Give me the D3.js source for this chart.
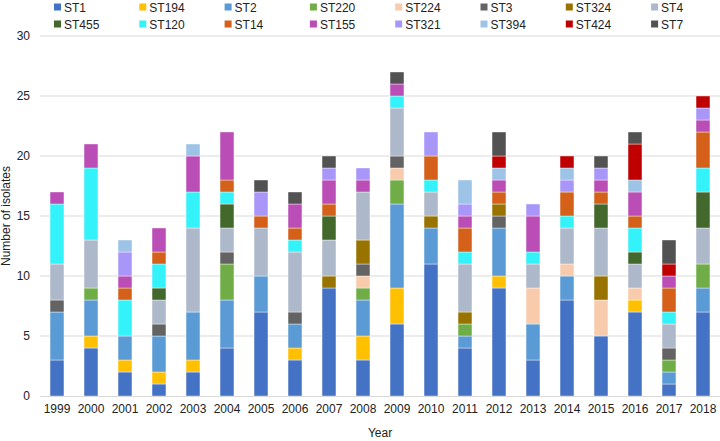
<!DOCTYPE html>
<html><head><meta charset="utf-8">
<script src="https://cdn.jsdelivr.net/npm/d3@7"></script>
<style>body{margin:0;background:#fff;}svg{display:block;font-family:"Liberation Sans",Arial,sans-serif;}</style>
</head><body>
<svg id="c" width="720" height="441"></svg>
<script>
const years = ["1999","2000","2001","2002","2003","2004","2005","2006","2007","2008","2009","2010","2011","2012","2013","2014","2015","2016","2017","2018"];
const seriesNames = ["ST1","ST194","ST2","ST220","ST224","ST3","ST324","ST4","ST455","ST120","ST14","ST155","ST321","ST394","ST424","ST7"];
const colors = ["#4472C4","#FFC000","#5B9BD5","#70AD47","#F8CBAD","#636363","#997300","#ADB9CA","#43682B","#33F2F9","#D5601A","#BA4DB6","#A897F9","#9DC3E6","#C00000","#525252"];
const ST1   = [3,4,2,1,2,4,7,3,9,3,6,11,4,9,3,8,5,7,1,7];
const ST194 = [0,1,1,1,1,0,0,1,0,2,3,0,0,1,0,0,0,1,0,0];
const ST2   = [4,3,2,3,4,4,3,2,0,3,7,3,1,4,3,2,0,0,1,2];
const ST220 = [0,1,0,0,0,3,0,0,0,1,2,0,1,0,0,0,0,0,1,2];
const ST224 = [0,0,0,0,0,0,0,0,0,1,1,0,0,0,3,1,3,1,0,0];
const ST3   = [1,0,0,1,0,1,0,1,0,1,1,0,0,1,0,0,0,0,1,0];
const ST324 = [0,0,0,0,0,0,0,0,1,2,0,1,1,1,0,0,2,0,0,0];
const ST4   = [3,4,0,2,7,2,4,5,3,4,4,2,4,0,2,3,4,2,2,3];
const ST455 = [0,0,0,1,0,2,0,0,2,0,0,0,0,0,0,0,2,1,0,3];
const ST120 = [5,6,3,2,3,1,0,1,0,0,1,1,1,0,1,1,0,2,1,2];
const ST14  = [0,0,1,1,0,1,1,1,1,0,0,2,2,1,0,2,1,1,2,3];
const ST155 = [1,2,1,2,3,4,0,2,2,1,1,0,1,1,3,0,1,2,1,1];
const ST321 = [0,0,2,0,0,0,2,0,1,1,0,2,1,0,1,1,1,0,0,1];
const ST394 = [0,0,1,0,1,0,0,0,0,0,0,0,2,1,0,1,0,1,0,0];
const ST424 = [0,0,0,0,0,0,0,0,0,0,0,0,0,1,0,1,0,3,1,1];
const ST7   = [0,0,0,0,0,0,1,1,1,0,1,0,0,2,0,0,1,1,2,0];
const yTicks = [0,5,10,15,20,25,30];
const seriesValues = [ST1,ST194,ST2,ST220,ST224,ST3,ST324,ST4,ST455,ST120,ST14,ST155,ST321,ST394,ST424,ST7];

const rows = years.map((y,i)=>{const r={year:y};seriesNames.forEach((s,k)=>r[s]=seriesValues[k][i]);return r;});
const svg = d3.select("#c");
const x = d3.scaleBand().domain(years).range([40,720]).paddingInner(0.59).paddingOuter(0.295);
const y = d3.scaleLinear().domain([0,30]).range([396,36]);

// gridlines
svg.append("g").selectAll("line").data(yTicks.slice(1)).join("line")
  .attr("x1",40).attr("x2",720).attr("y1",d=>y(d)).attr("y2",d=>y(d))
  .attr("stroke","#d9d9d9").attr("stroke-width",1);

const stack = d3.stack().keys(seriesNames)(rows);
svg.append("g").selectAll("g").data(stack).join("g")
  .attr("fill",(d,i)=>colors[i])
  .selectAll("rect").data(d=>d).join("rect")
  .attr("x",d=>x(d.data.year)).attr("width",x.bandwidth())
  .attr("y",d=>y(d[1])).attr("height",d=>y(d[0])-y(d[1]))
  .attr("stroke","#fff").attr("stroke-width",0.4);

// x axis
const xa = svg.append("g").attr("transform","translate(0,396)").call(d3.axisBottom(x).tickSize(0).tickPadding(8));
xa.select(".domain").attr("stroke","#d9d9d9").attr("d","M40,0.5H720");
xa.selectAll("text").attr("font-size",12).attr("fill","#222").attr("font-family","Liberation Sans, Arial, sans-serif");

// y axis
const ya = svg.append("g").attr("transform","translate(40,0)").call(d3.axisLeft(y).tickValues(yTicks).tickSize(0).tickPadding(10));
ya.select(".domain").remove();
ya.selectAll("text").attr("font-size",12).attr("fill","#222").attr("font-family","Liberation Sans, Arial, sans-serif");

svg.append("text").attr("x",380).attr("y",437).attr("text-anchor","middle").attr("font-size",12).attr("fill","#222").text("Year");
svg.append("text").attr("transform","translate(10,216) rotate(-90)").attr("text-anchor","middle").attr("font-size",12).attr("fill","#222").text("Number of isolates");

// legend
const lg = svg.append("g").selectAll("g").data(seriesNames).join("g")
  .attr("transform",(d,i)=>`translate(${54+(i%8)*85.3},${i<8?7:24})`);
lg.append("rect").attr("x",0).attr("y",-3.5).attr("width",7).attr("height",7).attr("fill",(d,i)=>colors[i]);
lg.append("text").attr("x",10).attr("y",4.5).attr("font-size",12).attr("fill","#222").text(d=>d);
</script>
</body></html>
